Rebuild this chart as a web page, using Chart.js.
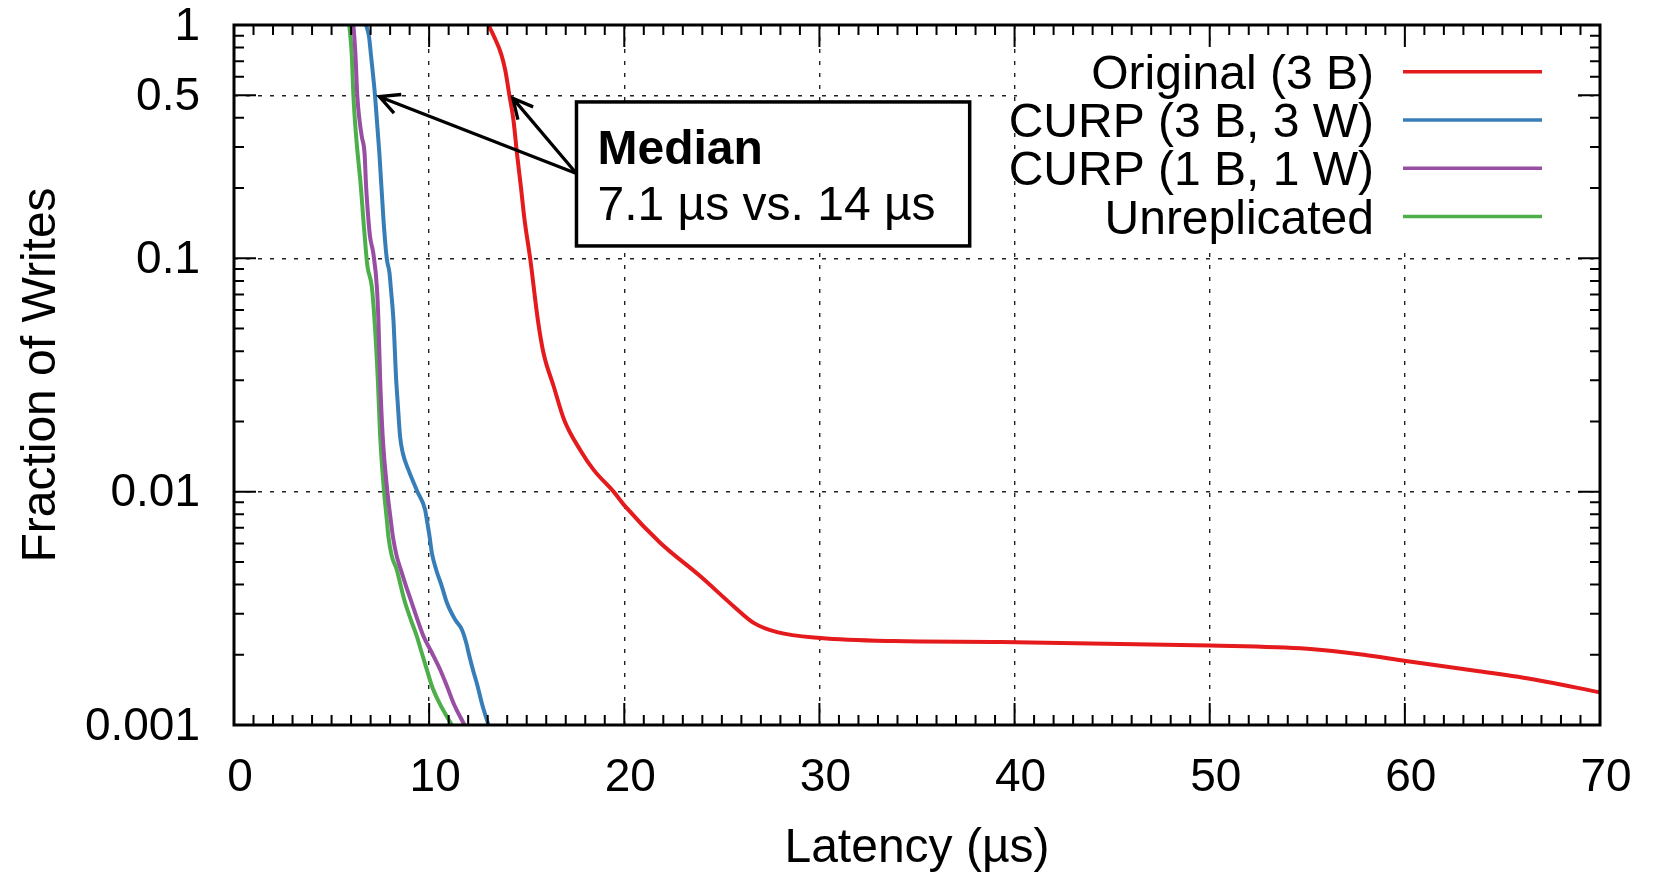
<!DOCTYPE html>
<html>
<head>
<meta charset="utf-8">
<title>Write latency CCDF</title>
<script src="https://cdn.jsdelivr.net/npm/chart.js@4.4.1/dist/chart.umd.min.js"></script>
<style>
  html, body { margin: 0; padding: 0; background: #fff; }
</style>
</head>
<body>
<canvas id="ccdf" width="1660" height="872"></canvas>
<script>
// latency (µs) vs. fraction of writes slower than that latency
const originalLatency = [13.04, 13.33, 13.68, 13.9, 14.12, 14.32, 14.5, 14.7, 14.89, 15.18, 15.57, 15.86, 16.38, 16.92, 17.74, 18.43, 19.45, 20.05, 21.85, 23.9, 25.6, 26.63, 27.83, 30.05, 33.8, 39.3, 50.04, 55.0, 57.9, 60.05, 63.8, 66.76, 70];
const originalFraction = [1, 0.891, 0.756, 0.641, 0.495, 0.392, 0.282, 0.203, 0.146, 0.0995, 0.0545, 0.0393, 0.0283, 0.0203, 0.0151, 0.0124, 0.01, 0.00865, 0.00603, 0.00434, 0.00323, 0.00274, 0.0025, 0.00236, 0.00229, 0.00227, 0.00219, 0.00212, 0.002, 0.00188, 0.0017, 0.00156, 0.00138];

const curp3Latency = [6.77, 6.92, 7.01, 7.23, 7.45, 7.66, 7.83, 7.97, 8.03, 8.17, 8.31, 8.39, 8.51, 8.65, 8.94, 9.40, 9.79, 9.88, 10.02, 10.14, 10.36, 10.65, 10.91, 11.33, 11.68, 11.90, 12.02, 12.24, 12.48, 12.70, 13.04];
const curp3Fraction = [1, 0.891, 0.756, 0.495, 0.282, 0.146, 0.0995, 0.0864, 0.0757, 0.0545, 0.0302, 0.024, 0.01725, 0.01465, 0.0124, 0.01, 0.00838, 0.00759, 0.00644, 0.00546, 0.00463, 0.00393, 0.00334, 0.00283, 0.00256, 0.00225, 0.00204, 0.00173, 0.00147, 0.00124, 0.001];

const curp1Latency = [6.12, 6.22, 6.32, 6.43, 6.55, 6.69, 6.77, 6.89, 6.97, 7.14, 7.32, 7.40, 7.49, 7.62, 7.86, 8.03, 8.14, 8.34, 8.55, 8.82, 9.11, 9.40, 9.71, 10.14, 10.56, 10.91, 11.25, 11.81];
const curp1Fraction = [1, 0.756, 0.495, 0.392, 0.332, 0.282, 0.203, 0.146, 0.124, 0.105, 0.0757, 0.0545, 0.0302, 0.01725, 0.01, 0.00759, 0.00644, 0.00528, 0.00463, 0.00393, 0.00334, 0.00283, 0.0024, 0.00204, 0.00173, 0.00147, 0.00124, 0.001];

const unrepLatency = [5.91, 6.03, 6.12, 6.26, 6.50, 6.63, 6.77, 6.84, 7.06, 7.20, 7.37, 7.49, 7.69, 7.83, 7.91, 8.09, 8.34, 8.55, 8.77, 9.06, 9.37, 9.62, 9.88, 10.14, 10.53, 11.16];
const unrepFraction = [1, 0.756, 0.495, 0.332, 0.203, 0.146, 0.105, 0.0922, 0.0757, 0.0545, 0.0302, 0.01725, 0.01, 0.00759, 0.00644, 0.00528, 0.00463, 0.00393, 0.00334, 0.00283, 0.0024, 0.00204, 0.00173, 0.00147, 0.00124, 0.001];

const seriesNames = ['Original (3 B)', 'CURP (3 B, 3 W)', 'CURP (1 B, 1 W)', 'Unreplicated'];
const seriesColors = ['#e41a1c', '#377eb8', '#984ea3', '#4daf4a'];

const xMin = 0, xMax = 70, xStep = 10;
const yTickValues = [0.001, 0.01, 0.1, 0.5, 1];
const yTickLabels = ['0.001', '0.01', '0.1', '0.5', '1'];

const noteLines = ['Median', '7.1 µs vs. 14 µs'];
const noteTargets = [[7.45, 0.493], [14.29, 0.485]];
const noteBox = { x0: 17.55, x1: 37.7, y0: 0.468, y1: 0.113 };

const FONT = '"Liberation Sans", Arial, Helvetica, sans-serif';

function points(xs, ys) {
  return xs.map((x, i) => ({ x, y: ys[i] }));
}

const seriesData = [
  points(originalLatency, originalFraction),
  points(curp3Latency, curp3Fraction),
  points(curp1Latency, curp1Fraction),
  points(unrepLatency, unrepFraction),
];

function arrow(ctx, x0, y0, x1, y1) {
  const a = Math.atan2(y0 - y1, x0 - x1);
  const len = 22, spread = 0.47;
  ctx.beginPath();
  ctx.moveTo(x0, y0);
  ctx.lineTo(x1, y1);
  ctx.moveTo(x1 + len * Math.cos(a + spread), y1 + len * Math.sin(a + spread));
  ctx.lineTo(x1, y1);
  ctx.lineTo(x1 + len * Math.cos(a - spread), y1 + len * Math.sin(a - spread));
  ctx.stroke();
}

// gnuplot-like frame, inward ticks, opaque key and the median note
const gnuplotLook = {
  id: 'gnuplotLook',
  beforeDatasetsDraw(chart) {
    const { ctx, chartArea: area } = chart;
    const r = area.right;
    ctx.save();
    ctx.fillStyle = '#fff';
    ctx.fillRect(r - 583, area.top + 20, 553, 200);
    ctx.font = '48px ' + FONT;
    ctx.textAlign = 'right';
    ctx.textBaseline = 'alphabetic';
    ctx.lineWidth = 3.5;
    chart.data.datasets.forEach((ds, i) => {
      const y = area.top + 46.7 + i * 48.3;
      ctx.fillStyle = '#000';
      ctx.fillText(ds.label, r - 226, y + 17);
      ctx.strokeStyle = ds.borderColor;
      ctx.beginPath();
      ctx.moveTo(r - 197, y);
      ctx.lineTo(r - 58, y);
      ctx.stroke();
    });
    ctx.restore();
  },
  afterDatasetsDraw(chart) {
    const { ctx, chartArea: area } = chart;
    const xs = chart.scales.x, ys = chart.scales.y;
    ctx.save();
    ctx.strokeStyle = '#000';
    ctx.lineCap = 'butt';

    // ticks
    ctx.lineWidth = 2;
    ctx.beginPath();
    for (let v = xMin; v <= xMax; v++) {
      const px = xs.getPixelForValue(v);
      const len = v % xStep === 0 ? 22 : 10;
      ctx.moveTo(px, area.bottom); ctx.lineTo(px, area.bottom - len);
      ctx.moveTo(px, area.top); ctx.lineTo(px, area.top + len);
    }
    for (let e = -3; e <= 0; e++) {
      for (let m = 1; m <= 9; m++) {
        const v = m * Math.pow(10, e);
        if (v > 1.0000001) break;
        const major = yTickValues.some(t => Math.abs(t - v) < 1e-9);
        const py = ys.getPixelForValue(v);
        const len = major ? 22 : 10;
        ctx.moveTo(area.left, py); ctx.lineTo(area.left + len, py);
        ctx.moveTo(area.right, py); ctx.lineTo(area.right - len, py);
      }
    }
    ctx.stroke();

    // frame
    ctx.lineWidth = 3;
    ctx.strokeRect(area.left, area.top, area.right - area.left, area.bottom - area.top);

    // median note
    const bx0 = xs.getPixelForValue(noteBox.x0), bx1 = xs.getPixelForValue(noteBox.x1);
    const by0 = ys.getPixelForValue(noteBox.y0), by1 = ys.getPixelForValue(noteBox.y1);
    ctx.lineWidth = 3.3;
    noteTargets.forEach(([tx, ty]) => {
      arrow(ctx, bx0, by0 + 71.5, xs.getPixelForValue(tx), ys.getPixelForValue(ty));
    });
    ctx.fillStyle = '#fff';
    ctx.fillRect(bx0, by0, bx1 - bx0, by1 - by0);
    ctx.lineWidth = 3.5;
    ctx.strokeRect(bx0, by0, bx1 - bx0, by1 - by0);
    ctx.fillStyle = '#000';
    ctx.textAlign = 'left';
    ctx.textBaseline = 'alphabetic';
    ctx.font = 'bold 48px ' + FONT;
    ctx.fillText(noteLines[0], bx0 + 21, by0 + 62);
    ctx.font = '48px ' + FONT;
    ctx.fillText(noteLines[1], bx0 + 21, by0 + 118);
    ctx.restore();
  }
};

const gridStyle = { color: '#222', lineWidth: 1.4, drawTicks: false };

new Chart(document.getElementById('ccdf'), {
  type: 'line',
  data: {
    datasets: seriesData.map((d, i) => ({
      label: seriesNames[i],
      data: d,
      borderColor: seriesColors[i],
      backgroundColor: seriesColors[i],
      borderWidth: 4,
      pointRadius: 0,
      fill: false,
      cubicInterpolationMode: 'monotone',
    })),
  },
  options: {
    responsive: false,
    animation: false,
    layout: { padding: { left: 0, top: 25, right: 60, bottom: 0 } },
    plugins: { legend: { display: false }, tooltip: { enabled: false } },
    scales: {
      x: {
        type: 'linear',
        min: xMin,
        max: xMax,
        ticks: { stepSize: xStep, color: '#000', font: { family: FONT, size: 46 }, padding: 26, labelOffset: 6, maxRotation: 0, autoSkip: false },
        grid: gridStyle,
        border: { display: false, dash: [4, 8] },
        title: { display: true, text: 'Latency (µs)', color: '#000', font: { family: FONT, size: 48, lineHeight: 0.98 }, padding: 0 },
        afterFit(scale) { scale.height = 147; scale.paddingLeft = 0; scale.paddingRight = 0; },
      },
      y: {
        type: 'logarithmic',
        min: 0.001,
        max: 1,
        afterBuildTicks(scale) { scale.ticks = yTickValues.map(v => ({ value: v })); },
        ticks: { color: '#000', font: { family: FONT, size: 46 }, padding: 34, labelOffset: 2, autoSkip: false, callback: (v, i) => yTickLabels[i] },
        grid: gridStyle,
        border: { display: false, dash: [4, 8] },
        title: { display: true, text: 'Fraction of Writes', color: '#000', font: { family: FONT, size: 48, lineHeight: 1.2 }, padding: { top: 13, bottom: 0 } },
        afterFit(scale) { scale.width = 234; scale.paddingTop = 0; scale.paddingBottom = 0; },
      },
    },
  },
  plugins: [gnuplotLook],
});
</script>
</body>
</html>
